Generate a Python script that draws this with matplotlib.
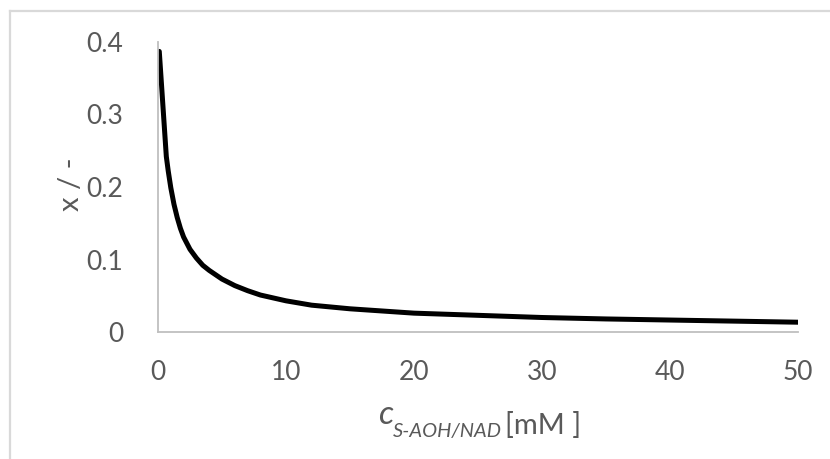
import matplotlib
matplotlib.use('Agg')
import matplotlib.pyplot as plt
from matplotlib.lines import Line2D

# Data
conc = [0.1, 0.65, 0.8, 1.0, 1.25, 1.5, 1.75, 2.0, 2.5, 3.0, 3.5, 4.0, 5.0, 6.0,
        7.0, 8.0, 9.0, 10.0, 12.0, 15.0, 20.0, 25.0, 30.0, 35.0, 40.0, 45.0, 50.0]
x_frac = [0.387, 0.242, 0.222, 0.199, 0.176, 0.158, 0.143, 0.131, 0.114, 0.102,
          0.092, 0.085, 0.073, 0.064, 0.057, 0.051, 0.047, 0.043, 0.037, 0.032,
          0.026, 0.023, 0.020, 0.018, 0.0165, 0.015, 0.0135]
x_ticks = [0, 10, 20, 30, 40, 50]
y_ticks = [0, 0.1, 0.2, 0.3, 0.4]
y_tick_labels = ['0', '0.1', '0.2', '0.3', '0.4']

font = 'Lato'
grey = '#595959'

W, H = 830, 459
fig = plt.figure(figsize=(W / 100, H / 100), dpi=100)
ax = fig.add_axes([158 / W, 1 - 332 / H, (798 - 158) / W, (332 - 42) / H])

ax.plot(conc, x_frac, color='black', lw=3.6, solid_capstyle='round', solid_joinstyle='round')

ax.set_xlim(0, 50)
ax.set_ylim(0, 0.4)
ax.set_xticks(x_ticks)
ax.set_yticks(y_ticks)
ax.set_yticklabels(y_tick_labels)
for s in ['top', 'right']:
    ax.spines[s].set_visible(False)
for s in ['left', 'bottom']:
    ax.spines[s].set_color('#bfbfbf')
    ax.spines[s].set_linewidth(1.3)
ax.tick_params(length=0, labelsize=19, labelcolor=grey, pad=0)
ax.tick_params(axis='y', pad=25)
ax.tick_params(axis='x', pad=20)
for lab in ax.get_xticklabels() + ax.get_yticklabels():
    lab.set_fontfamily(font)

# y label
fig.text(71 / W, 1 - 184 / H, 'x / -', rotation=90, ha='center', va='center',
         fontsize=21, color=grey, family=font)

# x label built from pieces: italic c, italic subscript, regular unit
t1 = fig.text(378 / W, 1 - 424 / H, 'c', fontsize=24, style='italic', color=grey,
              family=font, ha='left', va='baseline')
t2 = ax.annotate('S-AOH/NAD', xy=(1, 0), xycoords=t1, xytext=(0, -5),
                 textcoords='offset points', fontsize=14.5, style='italic',
                 color=grey, family=font, ha='left', va='baseline')
t3 = ax.annotate('[mM ]', xy=(1, 0), xycoords=t2, xytext=(2, 4),
                 textcoords='offset points', fontsize=21, color=grey,
                 family=font, ha='left', va='baseline', annotation_clip=False)

# chart area border (top and left visible in the crop)
fig.add_artist(Line2D([10 / W, 10 / W], [0, 1 - 11 / H], transform=fig.transFigure,
                      color='#d9d9d9', lw=1.6))
fig.add_artist(Line2D([10 / W, 1], [1 - 11 / H, 1 - 11 / H], transform=fig.transFigure,
                      color='#d9d9d9', lw=1.6))

fig.savefig('out.png', dpi=100)
